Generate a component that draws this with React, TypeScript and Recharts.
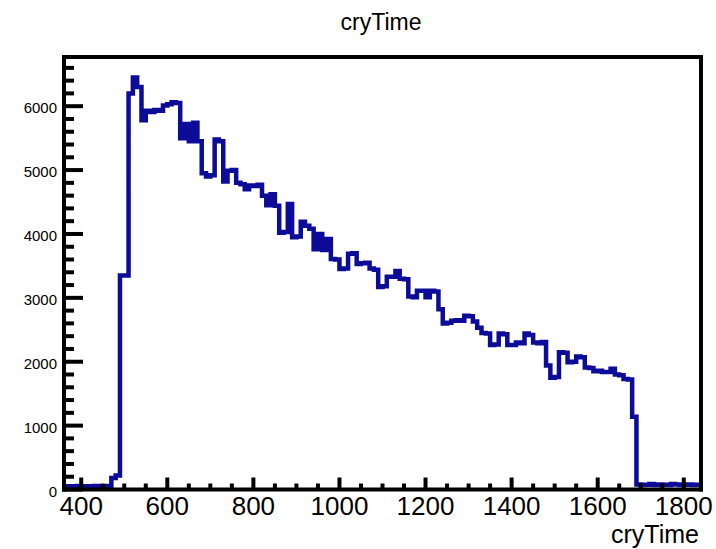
import { LineChart, Line, XAxis, YAxis } from 'recharts';

// ─── Histogram: cryTime, 10-unit bins from 360 to 1840 ──────────────────────

const BIN_LO = 360;
const BIN_W = 10;
const X_MIN = 360;
const X_MAX = 1840;
const Y_MAX = 6770;

// entries per bin (bin lower edges 360, 370, ... 1830)
const counts = [
  40, 50, 45, 55, 50, 40, 50, 55, 45, 50, 55, 180, 220, 3350, 3350, 6200,
  6450, 6300, 5780, 5930, 5910, 5940, 5930, 6010, 6030, 6060, 6050, 5500, 5720, 5450, 5740, 5450,
  4950, 4900, 4920, 5480, 5450, 4820, 4990, 5000, 4800, 4780, 4700, 4760, 4750, 4770, 4600, 4450,
  4620, 4440, 4020, 4030, 4470, 3950, 3960, 4190, 4130, 4080, 3760, 4000, 3750, 3920, 3610, 3600,
  3450, 3460, 3690, 3700, 3530, 3540, 3550, 3460, 3440, 3170, 3180, 3330, 3330, 3420, 3300, 3290,
  3020, 3010, 3110, 3110, 3010, 3110, 3100, 2820, 2600, 2610, 2640, 2650, 2640, 2720, 2710, 2630,
  2530, 2450, 2440, 2260, 2270, 2440, 2430, 2260, 2260, 2300, 2290, 2440, 2420, 2300, 2290, 2310,
  1940, 1750, 1760, 2150, 2140, 1990, 2000, 2080, 2070, 1910, 1900, 1850, 1860, 1840, 1840, 1890,
  1800, 1790, 1730, 1720, 1140, 80, 70, 75, 85, 70, 80, 75, 70, 85, 80, 70,
  75, 80, 70, 75,
];

const xTicks = [
  400, 450, 500, 550, 600, 650, 700, 750, 800, 850, 900, 950, 1000, 1050, 1100, 1150,
  1200, 1250, 1300, 1350, 1400, 1450, 1500, 1550, 1600, 1650, 1700, 1750, 1800,
];
const xLabels = [400, 600, 800, 1000, 1200, 1400, 1600, 1800];

const yTicks = [
  0, 200, 400, 600, 800, 1000, 1200, 1400, 1600, 1800, 2000, 2200, 2400, 2600, 2800, 3000,
  3200, 3400, 3600, 3800, 4000, 4200, 4400, 4600, 4800, 5000, 5200, 5400, 5600, 5800, 6000,
  6200, 6400, 6600,
];
const yLabels = [0, 1000, 2000, 3000, 4000, 5000, 6000];

const title = 'cryTime';
const xTitle = 'cryTime';

const FONT = '"Liberation Sans", Arial, Helvetica, sans-serif';

// ─── Ticks drawn inward, ROOT style ─────────────────────────────────────────

function XTick({ x, y, payload }: { x: number; y: number; payload: { value: number } }) {
  const major = xLabels.includes(payload.value);
  return (
    <g>
      <line x1={x} x2={x} y1={y} y2={y - (major ? 12 : 6)} stroke="#000" strokeWidth={4} />
      {major && (
        <text x={x} y={y + 25} textAnchor="middle" fontSize={26} fontFamily={FONT} fill="#000">
          {payload.value}
        </text>
      )}
    </g>
  );
}

function YTick({ x, y, payload }: { x: number; y: number; payload: { value: number } }) {
  const major = yLabels.includes(payload.value);
  return (
    <g>
      <line x1={x} x2={x + (major ? 19 : 10)} y1={y} y2={y} stroke="#000" strokeWidth={4} />
      {major && (
        <text x={x - 7} y={y + 7} textAnchor="end" fontSize={15} fontFamily={FONT} fill="#000">
          {payload.value}
        </text>
      )}
    </g>
  );
}

export default function App() {
  const data = counts.map((c, i) => ({ x: BIN_LO + i * BIN_W, y: c }));
  data.push({ x: X_MAX, y: counts[counts.length - 1] });

  const frame = { stroke: '#000', strokeWidth: 4, strokeLinecap: 'square' as const };

  return (
    <div style={{ position: 'absolute', left: 0, top: 0, width: 716, height: 549, background: '#fff' }}>
      <div
        style={{
          position: 'absolute',
          left: 0,
          width: 762,
          top: 11,
          textAlign: 'center',
          fontFamily: FONT,
          fontSize: 23,
          lineHeight: 1,
        }}
      >
        {title}
      </div>
      <div
        style={{
          position: 'absolute',
          right: 17,
          top: 522,
          fontFamily: FONT,
          fontSize: 25,
          lineHeight: 1,
        }}
      >
        {xTitle}
      </div>

      <LineChart width={716} height={549} data={data} margin={{ top: 56, right: 14, bottom: 0, left: 0 }}>
        <XAxis
          dataKey="x"
          type="number"
          domain={[X_MIN, X_MAX]}
          ticks={xTicks}
          interval={0}
          height={59.5}
          tickSize={0}
          tickMargin={0}
          tickLine={false}
          axisLine={frame}
          tick={(p: any) => <XTick {...p} />}
        />
        <XAxis
          xAxisId="top"
          orientation="top"
          dataKey="x"
          type="number"
          domain={[X_MIN, X_MAX]}
          height={1}
          tick={false}
          tickLine={false}
          axisLine={frame}
        />
        <YAxis
          type="number"
          domain={[0, Y_MAX]}
          ticks={yTicks}
          interval={0}
          width={64}
          tickSize={0}
          tickMargin={0}
          tickLine={false}
          axisLine={frame}
          tick={(p: any) => <YTick {...p} />}
        />
        <YAxis
          yAxisId="right"
          orientation="right"
          type="number"
          domain={[0, Y_MAX]}
          width={1}
          tick={false}
          tickLine={false}
          axisLine={frame}
        />
        <Line
          type="stepAfter"
          dataKey="y"
          stroke="#0c0c98"
          strokeWidth={4.5}
          strokeLinejoin="miter"
          dot={false}
          activeDot={false}
          isAnimationActive={false}
        />
      </LineChart>
    </div>
  );
}
